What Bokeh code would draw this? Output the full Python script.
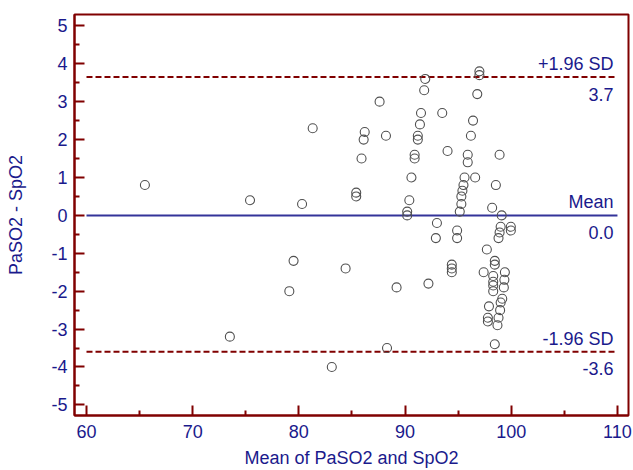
from bokeh.plotting import figure
from bokeh.models import Range1d, FixedTicker, ColumnDataSource
from bokeh.core.properties import value
from bokeh.embed import file_html
from bokeh.resources import INLINE

# Bland-Altman: mean of the two methods vs their difference
mean_vals = [65.5, 73.5, 75.4, 79.1, 79.5, 80.3, 81.3, 83.1, 84.4, 85.4,
             85.4, 85.9, 86.1, 86.2, 87.6, 88.2, 88.3, 89.2, 90.2, 90.2,
             90.4, 90.6, 90.9, 90.9, 91.2, 91.2, 91.4, 91.5, 91.8, 91.9,
             92.2, 92.9, 93.0, 93.5, 94.0, 94.4, 94.4, 94.4, 94.9, 94.9,
             95.15, 95.3, 95.3, 95.4, 95.5, 95.6, 95.9, 95.9, 96.2, 96.4,
             96.6, 96.8, 97.0, 97.0, 97.4, 97.7, 97.8, 97.8, 97.9, 98.2,
             98.3, 98.3, 98.3, 98.3, 98.45, 98.45, 98.45, 98.55, 98.7, 98.8,
             98.8, 98.9, 98.9, 98.95, 99.0, 99.0, 99.1, 99.15, 99.3, 99.35,
             99.4, 99.96, 99.96]
diff_vals = [0.8, -3.2, 0.4, -2.0, -1.2, 0.3, 2.3, -4.0, -1.4, 0.6,
             0.5, 1.5, 2.0, 2.2, 3.0, 2.1, -3.5, -1.9, 0.1, 0.0,
             0.4, 1.0, 1.6, 1.5, 2.1, 2.0, 2.4, 2.7, 3.3, 3.6,
             -1.8, -0.6, -0.2, 2.7, 1.7, -1.3, -1.4, -1.5, -0.4, -0.6,
             0.1, 0.3, 0.5, 0.65, 0.8, 1.0, 1.4, 1.6, 2.1, 2.5,
             1.0, 3.2, 3.7, 3.8, -1.5, -0.9, -2.7, -2.8, -2.4, 0.2,
             -1.6, -1.75, -1.85, -2.0, -1.2, -1.3, -3.4, 0.8, -2.9, -2.7,
             -0.6, -0.45, 1.6, -2.5, -0.3, -2.3, 0.0, -2.2, -1.9, -1.7,
             -1.5, -0.3, -0.4]

bias = 0.0
upper_loa = 3.65
lower_loa = -3.6
line_labels = ["+1.96 SD", "Mean", "-1.96 SD"]
value_labels = ["3.7", "0.0", "-3.6"]

x_ticks = [60, 70, 80, 90, 100, 110]
x_minor = [65, 75, 85, 95, 105]
y_ticks = [-5, -4, -3, -2, -1, 0, 1, 2, 3, 4, 5]
y_minor = [-4.5, -3.5, -2.5, -1.5, -0.5, 0.5, 1.5, 2.5, 3.5, 4.5]

DARKRED = "#800000"
NAVY = "#1a1a8c"
FONT = "Liberation Sans"

p = figure(width=633, height=470, output_backend="svg", toolbar_location=None,
           x_range=Range1d(58.87, 111.04), y_range=Range1d(-5.28, 5.3),
           min_border_left=74, min_border_right=5, min_border_top=14,
           min_border_bottom=53)
p.background_fill_color = "white"
p.border_fill_color = "white"
p.outline_line_color = DARKRED
p.outline_line_width = 2
p.xgrid.visible = False
p.ygrid.visible = False

for ax, ticks, minor in ((p.xaxis[0], x_ticks, x_minor), (p.yaxis[0], y_ticks, y_minor)):
    ax.ticker = FixedTicker(ticks=ticks, minor_ticks=minor)
    # plain hyphen for negative numbers, as in the original
    ax.major_label_overrides = {t: str(t) for t in ticks}
    ax.axis_line_color = DARKRED
    ax.axis_line_width = 2
    ax.major_tick_line_color = DARKRED
    ax.major_tick_line_width = 2
    ax.minor_tick_line_color = DARKRED
    ax.minor_tick_line_width = 2
    ax.major_tick_in = 10
    ax.major_tick_out = 0
    ax.minor_tick_in = 5
    ax.minor_tick_out = 0
    ax.major_label_text_color = NAVY
    ax.major_label_text_font = FONT
    ax.major_label_text_font_size = "18px"
    ax.axis_label_text_color = NAVY
    ax.axis_label_text_font = FONT
    ax.axis_label_text_font_size = "18px"
    ax.axis_label_text_font_style = "normal"

p.xaxis.axis_label = "Mean of PaSO2 and SpO2"
p.yaxis.axis_label = "PaSO2 - SpO2"
p.xaxis.major_label_standoff = 9
p.xaxis.axis_label_standoff = 7
p.yaxis.major_label_standoff = 7
p.yaxis.axis_label_standoff = 22

# limits of agreement and bias lines across the tick span
x0, x1 = x_ticks[0], x_ticks[-1]
p.line([x0, x1], [upper_loa, upper_loa], line_color=DARKRED, line_width=2, line_dash="6 3")
p.line([x0, x1], [lower_loa, lower_loa], line_color=DARKRED, line_width=2, line_dash="6 3")
p.line([x0, x1], [bias, bias], line_color="#333399", line_width=2)

src = ColumnDataSource(data=dict(x=mean_vals, y=diff_vals))
p.scatter("x", "y", source=src, marker="circle", size=9, fill_color=None,
          line_color="#505050", line_width=1.1)

lvl = [upper_loa, bias, lower_loa]
p.text(x=[x1] * 3, y=lvl, text=line_labels, text_align="right",
       text_baseline="alphabetic", x_offset=-4, y_offset=-13,
       text_font=value(FONT), text_font_size=value("18px"), text_color=NAVY)
p.text(x=[x1] * 3, y=lvl, text=value_labels, text_align="right",
       text_baseline="alphabetic", x_offset=-4, y_offset=17,
       text_font=value(FONT), text_font_size=value("18px"), text_color=NAVY)

open("out.html", "w").write(file_html(p, INLINE))
